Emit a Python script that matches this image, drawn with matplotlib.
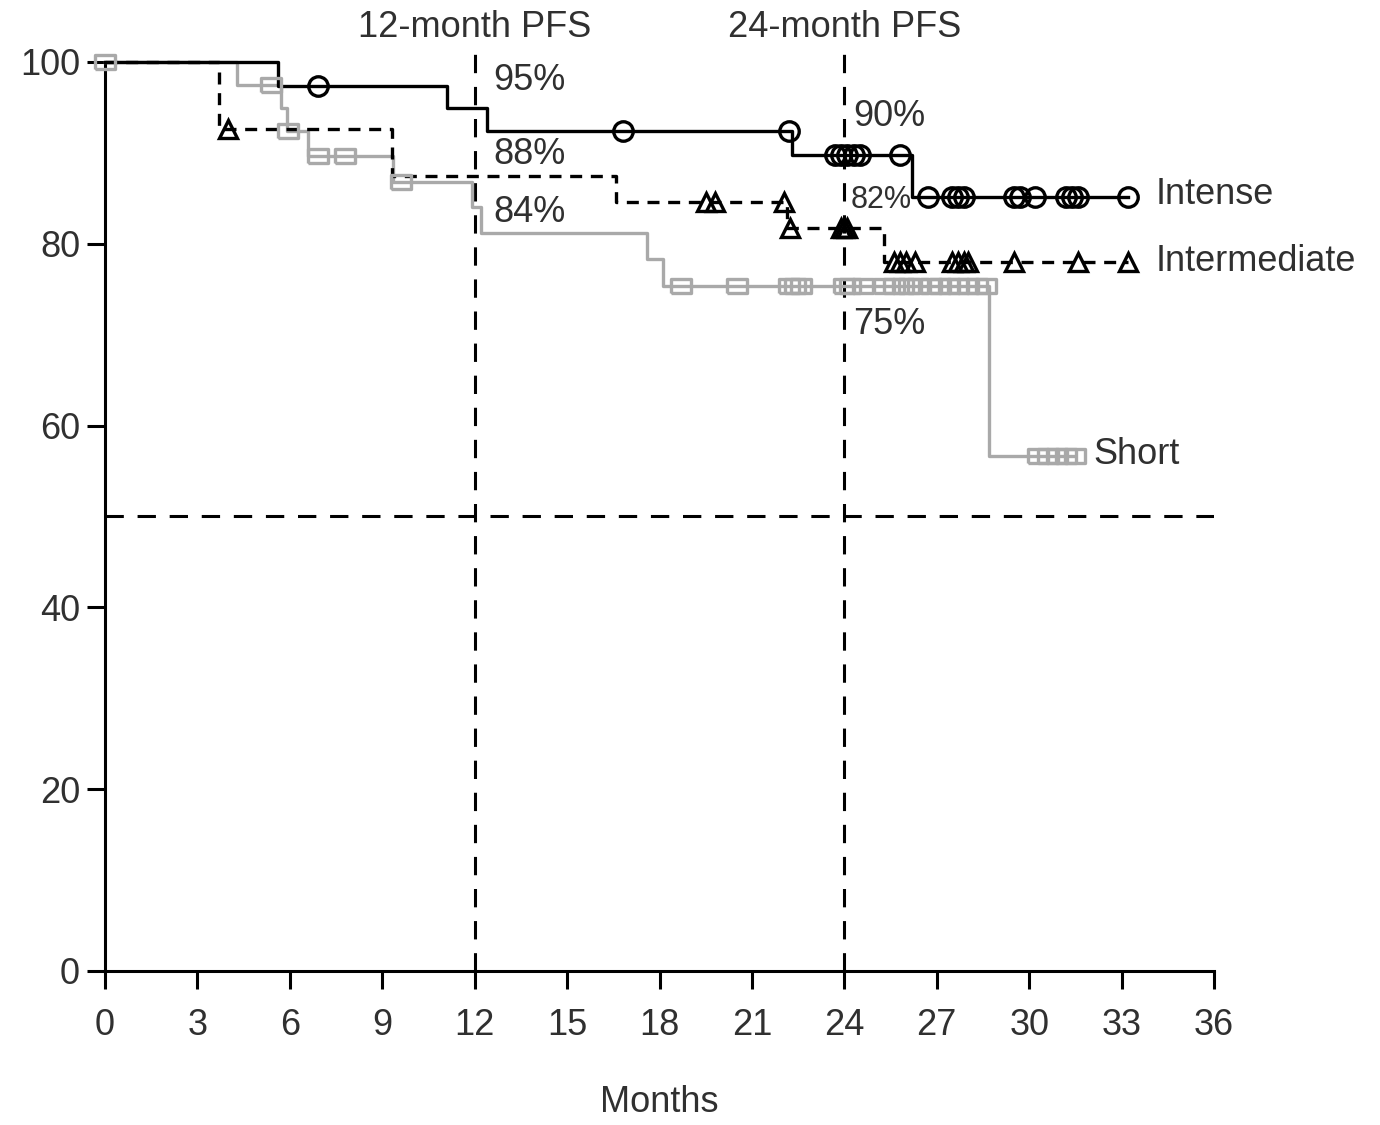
import numpy as np
import matplotlib
matplotlib.use("Agg")
import matplotlib.pyplot as plt
from matplotlib import font_manager

# Kaplan-Meier style step data (months, % PFS)
intense_t = [0, 5.6, 11.1, 12.4, 22.3, 26.2]
intense_s = [100, 97.4, 94.9, 92.4, 89.8, 85.1]
intense_end = 33.2
intense_cens = [6.9, 16.8, 22.2, 23.7, 23.9, 24.1, 24.3, 24.5, 25.8, 26.7,
                27.5, 27.7, 27.9, 29.5, 29.7, 30.2, 31.2, 31.4, 31.6, 33.2]

inter_t = [0, 3.7, 9.3, 16.6, 22.15, 25.3]
inter_s = [100, 92.6, 87.5, 84.6, 81.7, 78.0]
inter_end = 33.2
inter_cens = [4.0, 19.5, 19.8, 22.05, 22.25, 23.9, 24.0, 24.1, 25.6, 25.8,
              26.0, 26.3, 27.5, 27.7, 27.9, 28.0, 29.5, 31.6, 33.2]

short_t = [0, 4.3, 5.7, 5.9, 6.6, 9.35, 11.9, 12.2, 17.6, 18.1, 28.7]
short_s = [100, 97.5, 94.9, 92.4, 89.6, 86.8, 84.0, 81.2, 78.3, 75.4, 56.6]
short_end = 31.5
short_cens = [0, 5.4, 5.95, 6.9, 7.8, 9.6, 18.7, 20.5, 22.2, 22.4, 22.6,
              24.0, 24.2, 24.6, 25.3, 25.6, 25.9, 26.1, 26.4, 26.8, 27.1,
              27.4, 27.7, 28.0, 28.3, 28.6, 30.3, 30.6, 30.9, 31.2, 31.5]

x_ticks = list(range(0, 37, 3))
y_ticks = [0, 20, 40, 60, 80, 100]

# condensed font if present
names = {f.name for f in font_manager.fontManager.ttflist}
fam = "Liberation Sans Narrow" if "Liberation Sans Narrow" in names else "Liberation Sans"
plt.rcParams["font.family"] = [fam, "DejaVu Sans"]
txt = "#303030"
gray = "#a9a9a9"


def surv_at(t, times, surv):
    i = np.searchsorted(times, t, side="right") - 1
    return np.array(surv)[i]


fig = plt.figure(figsize=(13.8, 11.25), dpi=100)
ax = fig.add_axes([0.0761, 0.1369, 0.8036, 0.8323])

sq = [(-1, -0.7), (1, -0.7), (1, 0.7), (-1, 0.7), (-1, -0.7)]

groups = [
    (short_t, short_s, short_end, short_cens, gray, "-", sq, 15),
    (inter_t, inter_s, inter_end, inter_cens, "black", (0, (3.6, 2.6)), "^", 13),
    (intense_t, intense_s, intense_end, intense_cens, "black", "-", "o", 14),
]
for t, s, end, cens, col, ls, mk, ms in groups:
    ax.step(t + [end], s + [s[-1]], where="post", color=col, lw=2.4,
            linestyle=ls, zorder=3, clip_on=False)
    cy = [surv_at(c, t, s) for c in cens]
    ax.plot(cens, cy, linestyle="none", marker=mk, markersize=ms,
            markerfacecolor="none", markeredgecolor=col, markeredgewidth=2.4,
            zorder=4, clip_on=False)

# reference lines
ref_ls = (0, (6, 4.5))
ax.plot([0, 36], [50, 50], color="black", lw=2.2, linestyle=ref_ls, zorder=2)
for xv in (12, 24):
    ax.plot([xv, xv], [0, 102.3], color="black", lw=2.2, linestyle=ref_ls,
            zorder=2, clip_on=False)

fs = 26
ax.text(12, 103.8, "12-month PFS", ha="center", va="center", fontsize=fs, color=txt, clip_on=False)
ax.text(24, 103.8, "24-month PFS", ha="center", va="center", fontsize=fs, color=txt, clip_on=False)
ax.text(12.6, 98.0, "95%", ha="left", va="center", fontsize=fs, color=txt)
ax.text(12.6, 89.8, "88%", ha="left", va="center", fontsize=fs, color=txt)
ax.text(12.6, 83.4, "84%", ha="left", va="center", fontsize=fs, color=txt)
ax.text(24.3, 94.0, "90%", ha="left", va="center", fontsize=fs, color=txt)
ax.text(24.2, 84.8, "82%", ha="left", va="center", fontsize=22, color=txt)
ax.text(24.3, 71.1, "75%", ha="left", va="center", fontsize=fs, color=txt)
ax.text(34.1, 85.4, "Intense", ha="left", va="center", fontsize=fs, color=txt, clip_on=False)
ax.text(34.1, 78.0, "Intermediate", ha="left", va="center", fontsize=fs, color=txt, clip_on=False)
ax.text(32.1, 56.8, "Short", ha="left", va="center", fontsize=fs, color=txt, clip_on=False)

ax.set_xlim(0, 36)
ax.set_ylim(0, 103)
ax.set_xticks(x_ticks)
ax.set_yticks(y_ticks)
ax.spines["top"].set_visible(False)
ax.spines["right"].set_visible(False)
ax.spines["left"].set_bounds(0, 100)
for sp in ("left", "bottom"):
    ax.spines[sp].set_linewidth(2.2)
ax.tick_params(axis="both", direction="out", length=13, width=2.2,
               labelsize=fs, labelcolor=txt)
ax.tick_params(axis="x", pad=14)
ax.tick_params(axis="y", pad=5)
ax.set_xlabel("Months", fontsize=fs, color=txt, labelpad=30)

fig.savefig("out.png", dpi=100)
